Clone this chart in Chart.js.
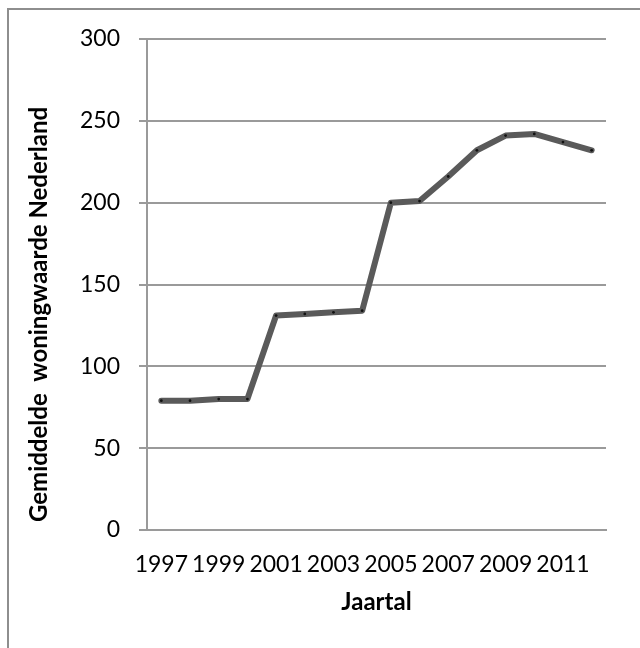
<!DOCTYPE html>
<html lang="nl">
<head>
<meta charset="utf-8">
<title>Gemiddelde woningwaarde Nederland</title>
<script src="https://cdn.jsdelivr.net/npm/chart.js@4/dist/chart.umd.min.js"></script>
<style>
  html, body { margin: 0; padding: 0; background: #ffffff; overflow: hidden; }
  #wrap { position: relative; width: 640px; height: 648px; }
  #frame {
    position: absolute; left: 7px; top: 8px; width: 700px; height: 700px;
    border: 2px solid #8e8e8e; box-sizing: border-box; pointer-events: none;
  }
  canvas { position: absolute; left: 0; top: 0; }
</style>
</head>
<body>
<div id="wrap">
  <canvas id="chart" width="640" height="648"></canvas>
  <div id="frame"></div>
</div>
<script>
// Jaren (categorieën) en gemiddelde woningwaarde (x 1000 euro)
const years = ['1997','1998','1999','2000','2001','2002','2003','2004',
               '2005','2006','2007','2008','2009','2010','2011','2012'];
const values = [79, 79, 80, 80, 131, 132, 133, 134,
                200, 201, 216, 232, 241, 242, 237, 232];
const yMin = 0;
const yMax = 300;
const yStep = 50;
const xTitle = 'Jaartal';
const yTitle = 'Gemiddelde  woningwaarde Nederland';

const gridGray = '#9a9a9a';
const tickFont = { family: 'Lato, "DejaVu Sans", sans-serif', size: 23 };
const titleFont = { family: 'Lato, "DejaVu Sans", sans-serif', size: 24, weight: 'bold' };

// Verticale as-titel, iets onder het midden van het plotgebied
const yTitlePlugin = {
  id: 'yTitle',
  afterDraw(chart) {
    const { ctx, chartArea } = chart;
    ctx.save();
    ctx.translate(39, (chartArea.top + chartArea.bottom) / 2 + 30);
    ctx.rotate(-Math.PI / 2);
    ctx.font = 'bold 24px Lato, "DejaVu Sans", sans-serif';
    ctx.fillStyle = '#000000';
    ctx.textAlign = 'center';
    ctx.textBaseline = 'middle';
    ctx.fillText(yTitle, 0, 0);
    ctx.restore();
  }
};

new Chart(document.getElementById('chart'), {
  type: 'line',
  data: {
    labels: years,
    datasets: [{
      data: values,
      borderColor: '#5a5a5a',
      borderWidth: 6,
      borderCapStyle: 'round',
      borderJoinStyle: 'round',
      tension: 0,
      pointRadius: 1.4,
      pointBackgroundColor: '#111111',
      pointBorderWidth: 0,
      pointHoverRadius: 1.4
    }]
  },
  options: {
    responsive: false,
    animation: false,
    devicePixelRatio: 1,
    layout: { padding: { top: 39, right: 34, left: 0, bottom: 0 } },
    plugins: {
      legend: { display: false },
      tooltip: { enabled: false }
    },
    scales: {
      x: {
        offset: true,
        grid: { display: true, drawOnChartArea: false, drawTicks: false, color: gridGray, lineWidth: 2 },
        border: { display: true, color: gridGray, width: 2 },
        ticks: {
          autoSkip: false,
          maxRotation: 0,
          minRotation: 0,
          padding: 21,
          color: '#000000',
          font: tickFont,
          callback: (v, i) => (i % 2 === 0 ? years[i] : '')
        },
        title: {
          display: true,
          text: xTitle,
          color: '#000000',
          font: titleFont,
          padding: { top: 0, bottom: 31 }
        },
        afterFit(scale) { scale.height = 118; }
      },
      y: {
        min: yMin,
        max: yMax,
        grid: { color: gridGray, lineWidth: 2, tickLength: 8 },
        border: { display: true, color: gridGray, width: 2 },
        ticks: {
          stepSize: yStep,
          padding: 19,
          color: '#000000',
          font: tickFont
        },
        afterFit(scale) { scale.width = 147; }
      }
    }
  },
  plugins: [yTitlePlugin]
});
</script>
</body>
</html>
